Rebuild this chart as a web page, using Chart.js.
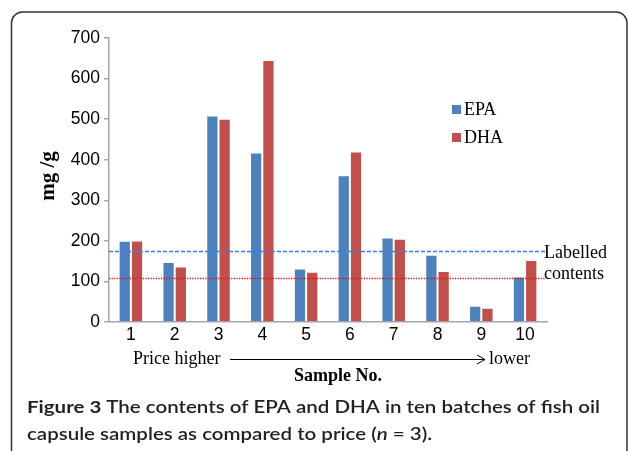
<!DOCTYPE html>
<html>
<head>
<meta charset="utf-8">
<script src="https://cdn.jsdelivr.net/npm/chart.js@4.4.1/dist/chart.umd.min.js"></script>
<style>
  html, body { margin: 0; padding: 0; background: #fff; }
  canvas { display: block; }
</style>
</head>
<body>
<canvas id="grafico" width="628" height="451"></canvas>
<script>
// data
const samples = ['1', '2', '3', '4', '5', '6', '7', '8', '9', '10'];
const epa = [200, 148, 509, 418, 132, 362, 208, 166, 40, 112];
const dha = [201, 137, 501, 646, 124, 420, 205, 126, 35, 153];
const yTicks = [0, 100, 200, 300, 400, 500, 600, 700];
const labelledEpa = 174;
const labelledDha = 109;

const serif = '"Liberation Serif", "Times New Roman", serif';
const sans = '"Liberation Sans", Arial, sans-serif';

const extras = {
    id: 'extras',
    beforeDraw(chart) {
        const c = chart.ctx;
        c.save();
        c.fillStyle = '#fff';
        c.fillRect(0, 0, chart.width, chart.height);
        c.restore();
    },
    afterDraw(chart) {
        const c = chart.ctx;
        const y = chart.scales.y;
        const area = chart.chartArea;
        c.save();

        // labelled content lines
        c.lineWidth = 1.3;
        c.strokeStyle = '#3d7fe6';
        c.setLineDash([4, 2]);
        let py = Math.round(y.getPixelForValue(labelledEpa)) + 0.5;
        c.beginPath(); c.moveTo(area.left, py); c.lineTo(area.right - 2, py); c.stroke();
        c.strokeStyle = '#e01818';
        c.setLineDash([1.3, 1.3]);
        py = Math.round(y.getPixelForValue(labelledDha)) + 0.5;
        c.beginPath(); c.moveTo(area.left, py); c.lineTo(area.right - 2, py); c.stroke();
        c.setLineDash([]);

        c.fillStyle = '#000';
        c.font = '18px ' + serif;
        c.textAlign = 'left';
        c.textBaseline = 'alphabetic';
        c.fillText('Labelled', 544, 258);
        c.fillText('contents', 544, 279);

        // legend
        const items = [['EPA', '#4F81BD', 105], ['DHA', '#C0504D', 133]];
        items.forEach(([t, col, top]) => {
            c.fillStyle = col;
            c.fillRect(452, top, 9, 9);
            c.fillStyle = '#000';
            c.fillText(t, 464, top + 10);
        });

        // price arrow
        c.fillText('Price higher', 133, 364);
        c.fillText('lower', 489, 364);
        c.strokeStyle = '#000';
        c.lineWidth = 1;
        c.beginPath(); c.moveTo(230, 359.5); c.lineTo(485, 359.5); c.stroke();
        c.beginPath(); c.moveTo(477, 355); c.lineTo(485, 359.5); c.lineTo(477, 364); c.stroke();

        c.font = 'bold 18px ' + serif;
        c.textAlign = 'center';
        c.fillText('Sample No.', 338, 381);

        c.save();
        c.translate(54, 176);
        c.rotate(-Math.PI / 2);
        c.font = 'bold 21px ' + serif;
        c.fillText('mg /g', 0, 0);
        c.restore();

        // caption
        c.fillStyle = '#231f20';
        c.textAlign = 'left';
        const bold = 'bold 17.5px Lato, sans-serif';
        const reg = '600 17.5px Lato, sans-serif';
        const ital = 'italic 600 17.5px Lato, sans-serif';
        c.font = bold; const w1 = c.measureText('Figure 3 ').width;
        c.font = reg; const w2 = c.measureText('The contents of EPA and DHA in ten batches of fish oil').width;
        const k = 573 / (w1 + w2);
        c.save();
        c.translate(27, 413);
        c.scale(k, 1);
        c.font = bold; c.fillText('Figure 3 ', 0, 0);
        c.font = reg; c.fillText('The contents of EPA and DHA in ten batches of fish oil', w1, 0);
        c.restore();
        c.save();
        c.translate(27, 440);
        c.scale(k, 1);
        const parts = [['capsule samples as compared to price (', reg], ['n', ital], [' = 3).', reg]];
        let x = 0;
        parts.forEach(([t, f]) => { c.font = f; c.fillText(t, x, 0); x += c.measureText(t).width; });
        c.restore();

        // frame
        c.strokeStyle = '#333';
        c.lineWidth = 1.5;
        const r = 11;
        c.beginPath();
        c.moveTo(11.5, 460);
        c.lineTo(11.5, 12 + r);
        c.arcTo(11.5, 12, 11.5 + r, 12, r);
        c.lineTo(627 - r, 12);
        c.arcTo(627, 12, 627, 12 + r, r);
        c.lineTo(627, 460);
        c.stroke();

        c.restore();
    }
};

new Chart(document.getElementById('grafico').getContext('2d'), {
    type: 'bar',
    data: {
        labels: samples,
        datasets: [
            { label: 'EPA', data: epa, backgroundColor: '#4F81BD', borderColor: 'rgba(255,255,255,0.35)', borderWidth: 1 },
            { label: 'DHA', data: dha, backgroundColor: '#C0504D', borderColor: 'rgba(255,255,255,0.35)', borderWidth: 1 }
        ]
    },
    options: {
        responsive: false,
        animation: false,
        devicePixelRatio: 1,
        layout: { padding: { left: 9, top: 38, right: 81, bottom: 0 } },
        categoryPercentage: 0.56,
        barPercentage: 1.0,
        plugins: { legend: { display: false }, tooltip: { enabled: false } },
        scales: {
            x: {
                grid: { display: false, drawTicks: false },
                border: { color: '#a6a6a6', width: 1.5 },
                ticks: { color: '#000', font: { family: sans, size: 17.5 }, padding: 3, maxRotation: 0 },
                afterFit(s) { s.height = 129; }
            },
            y: {
                min: 0,
                max: 700,
                afterBuildTicks(s) { s.ticks = yTicks.map(v => ({ value: v })); },
                grid: { drawOnChartArea: false, tickLength: 5, color: '#a6a6a6', lineWidth: 1.5 },
                border: { color: '#a6a6a6', width: 1.5 },
                ticks: { color: '#000', font: { family: sans, size: 17.5 }, padding: 4 },
                afterFit(s) { s.width = 100; }
            }
        }
    },
    plugins: [extras]
});
</script>
</body>
</html>
